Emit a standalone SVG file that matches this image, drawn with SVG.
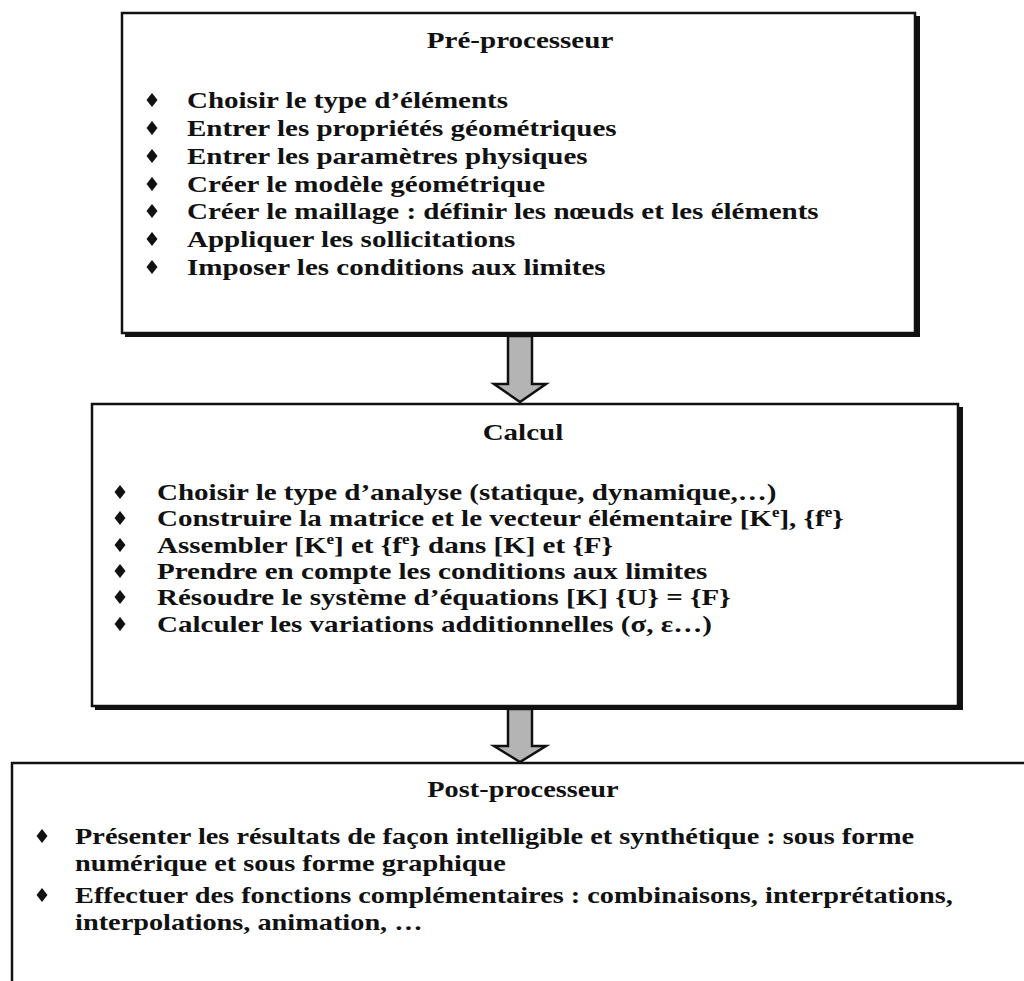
<svg xmlns="http://www.w3.org/2000/svg" width="1024" height="981" viewBox="0 0 1024 981">
<defs>
<style>
.box{fill:#fff;stroke:#111;stroke-width:2.5}
.shadow{fill:#111}
.t{font-family:"Liberation Serif","Times New Roman",serif;font-weight:bold;font-size:24px;fill:#111}
.title{text-anchor:middle}
.sup{font-size:14px}
.arrow{fill:#b4b4b4;stroke:#111;stroke-width:2.5;stroke-linejoin:miter}
</style>
<polygon id="dia" points="0,-7 5.5,0 0,7 -5.5,0" fill="#111"/>
</defs>
<rect width="1024" height="981" fill="#fff"/>

<g id="connectors">
<path class="arrow" d="M508,336 L532,336 L532,384 L546,384 L520,402 L494,384 L508,384 Z"/>
<path class="arrow" d="M508,709 L532,709 L532,746 L546,746 L520,762 L494,746 L508,746 Z"/>
</g>

<g id="pre">
<rect class="shadow" x="125" y="16" width="795" height="321"/>
<rect class="box" x="122" y="13" width="793" height="320"/>
<use href="#dia" x="152" y="100"/>
<use href="#dia" x="152" y="128"/>
<use href="#dia" x="152" y="156"/>
<use href="#dia" x="152" y="184"/>
<use href="#dia" x="152" y="211"/>
<use href="#dia" x="152" y="239"/>
<use href="#dia" x="152" y="267"/>
<g transform="scale(1.21,1)">
<text class="t title" x="429.8" y="48">Pré-processeur</text>
<text class="t" x="154.5" y="108">Choisir le type d’éléments</text>
<text class="t" x="154.5" y="136">Entrer les propriétés géométriques</text>
<text class="t" x="154.5" y="164">Entrer les paramètres physiques</text>
<text class="t" x="154.5" y="192">Créer le modèle géométrique</text>
<text class="t" x="154.5" y="219">Créer le maillage : définir les nœuds et les éléments</text>
<text class="t" x="154.5" y="247">Appliquer les sollicitations</text>
<text class="t" x="154.5" y="275">Imposer les conditions aux limites</text>
</g>
</g>

<g id="calcul">
<rect class="shadow" x="95" y="407" width="868" height="303"/>
<rect class="box" x="92" y="404" width="866" height="302"/>
<use href="#dia" x="120" y="492"/>
<use href="#dia" x="120" y="518"/>
<use href="#dia" x="120" y="545"/>
<use href="#dia" x="120" y="571"/>
<use href="#dia" x="120" y="597"/>
<use href="#dia" x="120" y="624"/>
<g transform="scale(1.21,1)">
<text class="t title" x="432.2" y="440">Calcul</text>
<text class="t" x="129.75" y="500">Choisir le type d’analyse (statique, dynamique,…)</text>
<text class="t" x="129.75" y="526">Construire la matrice et le vecteur élémentaire [K<tspan class="sup" dy="-9">e</tspan><tspan dy="9">], {f</tspan><tspan class="sup" dy="-9">e</tspan><tspan dy="9">}</tspan></text>
<text class="t" x="129.75" y="553">Assembler [K<tspan class="sup" dy="-9">e</tspan><tspan dy="9">] et {f</tspan><tspan class="sup" dy="-9">e</tspan><tspan dy="9">} dans [K] et {F}</tspan></text>
<text class="t" x="129.75" y="579">Prendre en compte les conditions aux limites</text>
<text class="t" x="129.75" y="605">Résoudre le système d’équations [K] {U} = {F}</text>
<text class="t" x="129.75" y="632">Calculer les variations additionnelles (σ, ε…)</text>
</g>
</g>

<g id="post">
<rect class="box" x="12" y="763" width="1030" height="240"/>
<use href="#dia" x="42" y="836"/>
<use href="#dia" x="42" y="895"/>
<g transform="scale(1.18,1)">
<text class="t title" x="443.2" y="797">Post-processeur</text>
<text class="t" x="63.6" y="844">Présenter les résultats de façon intelligible et synthétique : sous forme</text>
<text class="t" x="63.6" y="871">numérique et sous forme graphique</text>
<text class="t" x="63.6" y="903">Effectuer des fonctions complémentaires : combinaisons, interprétations,</text>
<text class="t" x="63.6" y="930">interpolations, animation, …</text>
</g>
</g>
</svg>
